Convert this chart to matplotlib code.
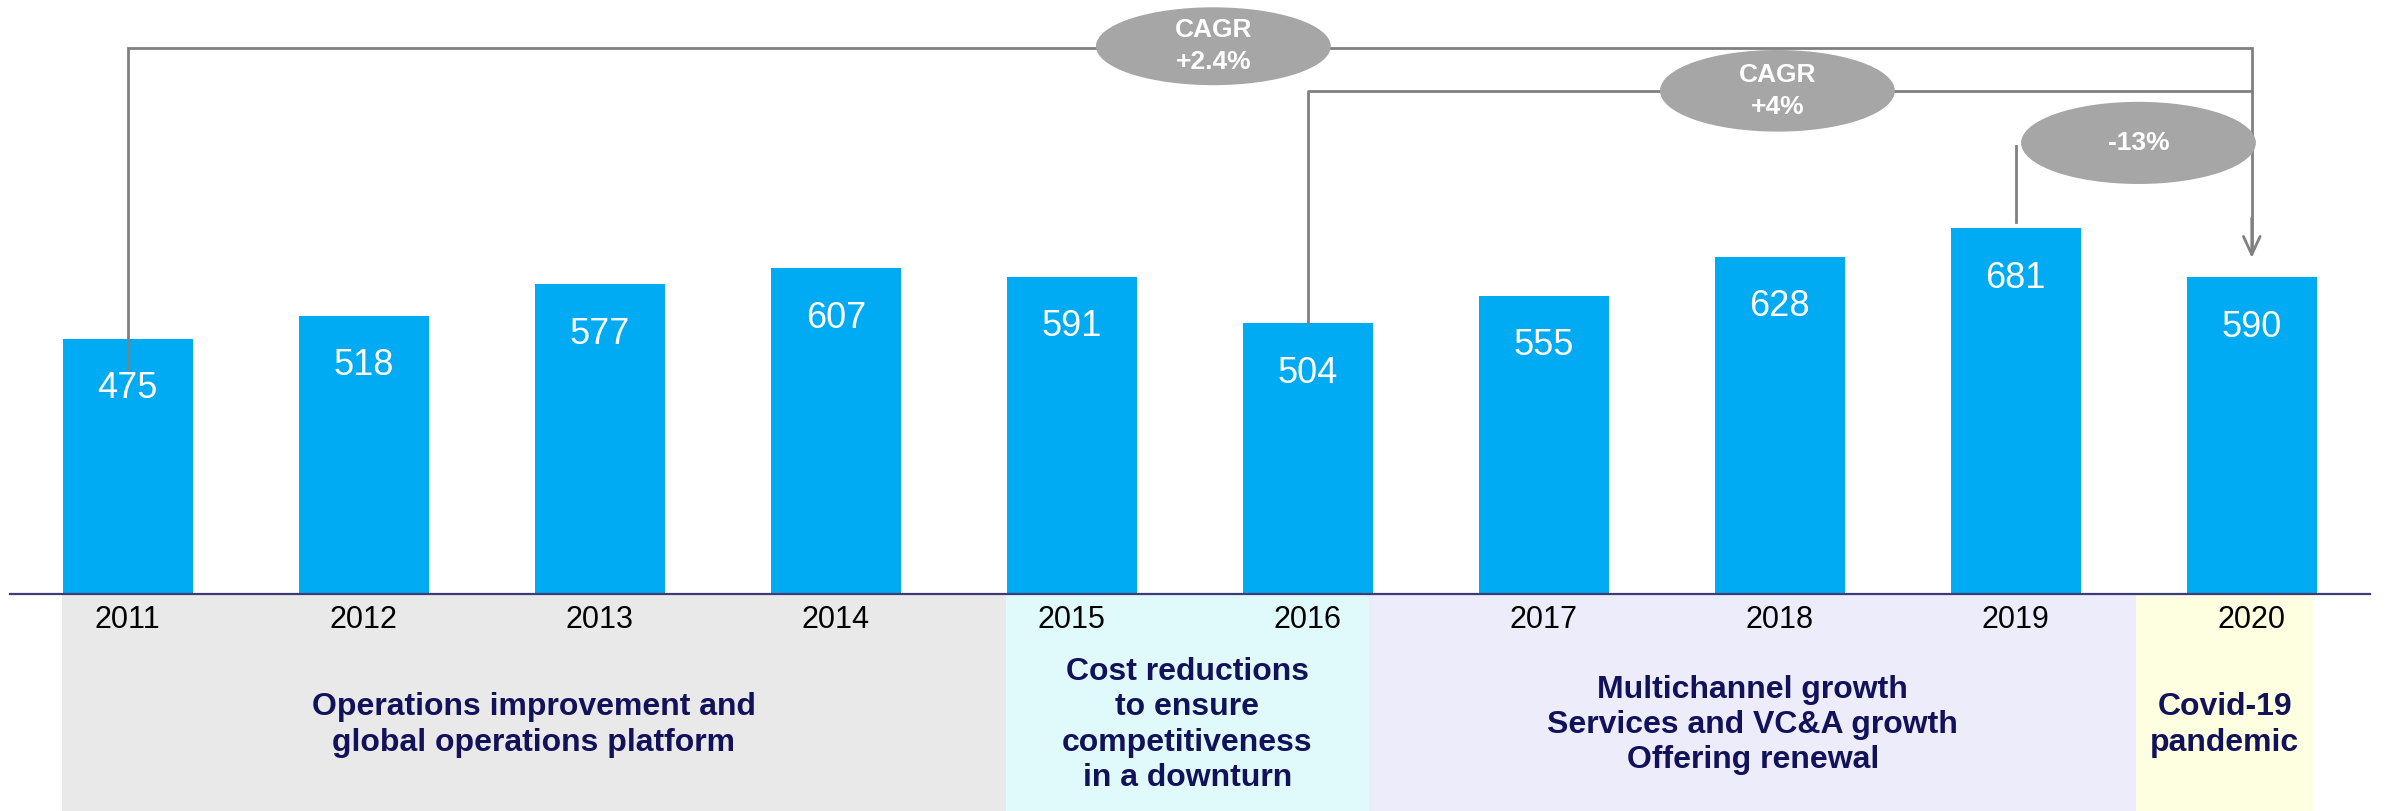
import matplotlib
matplotlib.use("Agg")
import matplotlib.pyplot as plt
from matplotlib.patches import Ellipse

plt.rcParams['font.family'] = ['Liberation Sans', 'DejaVu Sans']

# data
years = ['2011', '2012', '2013', '2014', '2015', '2016', '2017', '2018', '2019', '2020']
values = [475, 518, 577, 607, 591, 504, 555, 628, 681, 590]

# phases under the axis
phase_text = ['Operations improvement and\nglobal operations platform',
              'Cost reductions\nto ensure\ncompetitiveness\nin a downturn',
              'Multichannel growth\nServices and VC&A growth\nOffering renewal',
              'Covid-19\npandemic']
phase_start = [-0.28, 3.72, 5.26, 8.51]
phase_end = [3.72, 5.26, 8.51, 9.26]
phase_colors = ['#e9e9e9', '#e0fafc', '#ececfb', '#fefee0']

# growth callouts
cagr_labels = ['CAGR\n+2.4%', 'CAGR\n+4%', '-13%']

bar_color = '#00abf3'
line_color = '#808080'
bubble_color = '#a6a6a6'
navy = '#12125a'

fig = plt.figure(figsize=(23.87, 8.11), dpi=100)
ax = fig.add_axes([0, 0, 1, 1])
ax.set_xlim(-0.5415, 9.573)
ax.set_ylim(-404.1, 1106.1)
ax.axis('off')

x = list(range(len(years)))
ax.bar(x, values, width=0.55, color=bar_color, zorder=2)

# value labels inside bars
for xi, v in zip(x, values):
    ax.annotate(str(v), (xi, v), xytext=(0, -36), textcoords='offset points',
                ha='center', va='center', color='white', fontsize=26, zorder=5)

# baseline
ax.plot([-0.5, 9.5], [0, 0], color='#3c3c78', lw=1.6, zorder=4)

# year labels
for xi, y in zip(x, years):
    ax.text(xi, -48, y, ha='center', va='center', fontsize=22, color='black', zorder=3)

# phase bands
for s, e, t, c in zip(phase_start, phase_end, phase_text, phase_colors):
    ax.fill_between([s, e], -2, -404.1, color=c, lw=0, zorder=0)
    ax.text((s + e) / 2, -244, t, ha='center', va='center', fontsize=23,
            fontweight='bold', color=navy, linespacing=1.22, zorder=3)

lw = 2.0
# bracket 1: 2011 -> 2020
ax.plot([0, 0, 9, 9], [values[0] - 58, 1017, 1017, 640], color=line_color, lw=lw, zorder=3,
        solid_joinstyle='miter')
ax.annotate('', xy=(9, values[9] + 36), xytext=(9, 700),
            arrowprops=dict(arrowstyle='->,head_length=1.3,head_width=0.6',
                            color=line_color, lw=lw, shrinkA=0, shrinkB=0), zorder=3)
# bracket 2: 2016 -> 2020
ax.plot([5, 5, 9], [values[5], 937, 937], color=line_color, lw=lw, zorder=3)
# bracket 3: 2019 -> 2020
ax.plot([8, 8], [values[8] + 12, 835], color=line_color, lw=lw, zorder=3)

bubbles = [(4.6, 1020, 145), (6.99, 937, 152), (8.52, 840, 153)]
for (bx, by, bh), lab in zip(bubbles, cagr_labels):
    ax.add_patch(Ellipse((bx, by), 0.995, bh, facecolor=bubble_color, edgecolor='none', zorder=6))
    ax.text(bx, by, lab, ha='center', va='center', color='white', fontsize=19,
            fontweight='bold', linespacing=1.4, zorder=7)

fig.savefig('out.png', dpi=100)
